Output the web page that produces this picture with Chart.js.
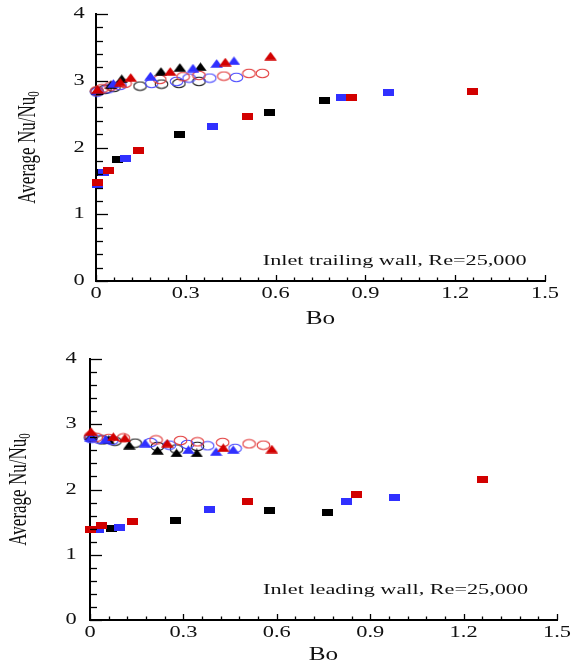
<!DOCTYPE html>
<html><head><meta charset="utf-8">
<script src="https://cdn.jsdelivr.net/npm/chart.js@4.4.1/dist/chart.umd.min.js"></script>
<style>
html,body{margin:0;padding:0;background:#fff;}
#top{position:absolute;left:0;top:0;width:575px;height:335px;}
#bot{position:absolute;left:0;top:335px;width:575px;height:334px;}
</style></head><body>
<div id="top"><canvas id="c1"></canvas></div>
<div id="bot"><canvas id="c2"></canvas></div>
<script>
// ---------- tick labels ----------
const xTickValues = [0, 0.3, 0.6, 0.9, 1.2, 1.5];
const xTickLabels = ['0', '0.3', '0.6', '0.9', '1.2', '1.5'];
const yTickValues = [0, 1, 2, 3, 4];
const yTickLabels = ['0', '1', '2', '3', '4'];

// ---------- top panel: inlet trailing wall ----------
const trSqK_Bo = [0.015, 0.072, 0.279, 0.579, 0.762];
const trSqK_Nu = [1.62, 1.82, 2.20, 2.53, 2.70];
const trSqB_Bo = [0.004, 0.024, 0.098, 0.388, 0.821, 0.976];
const trSqB_Nu = [1.45, 1.62, 1.84, 2.31, 2.75, 2.83];
const trSqR_Bo = [0.004, 0.041, 0.142, 0.507, 0.853, 1.257];
const trSqR_Nu = [1.48, 1.66, 1.95, 2.47, 2.75, 2.84];
const trTrK_Bo = [0.005, 0.05, 0.086, 0.217, 0.28, 0.349];
const trTrK_Nu = [2.86, 2.94, 3.03, 3.14, 3.20, 3.21];
const trTrB_Bo = [0.005, 0.058, 0.182, 0.324, 0.403, 0.461];
const trTrB_Nu = [2.85, 2.96, 3.07, 3.19, 3.26, 3.30];
const trTrR_Bo = [0.005, 0.081, 0.116, 0.248, 0.432, 0.583];
const trTrR_Nu = [2.87, 2.98, 3.05, 3.14, 3.28, 3.37];
const trCiK_Bo = [0.003, 0.03, 0.06, 0.147, 0.219, 0.277, 0.344];
const trCiK_Nu = [2.84, 2.87, 2.90, 2.92, 2.95, 2.96, 2.99];
const trCiB_Bo = [0.003, 0.04, 0.08, 0.186, 0.269, 0.311, 0.38, 0.469];
const trCiB_Nu = [2.83, 2.88, 2.93, 2.96, 2.99, 3.04, 3.04, 3.05];
const trCiR_Bo = [0.003, 0.02, 0.05, 0.097, 0.213, 0.291, 0.344, 0.427, 0.511, 0.556];
const trCiR_Nu = [2.85, 2.88, 2.92, 2.96, 3.02, 3.06, 3.08, 3.07, 3.11, 3.11];

// ---------- bottom panel: inlet leading wall ----------
const ldSqK_Bo = [0.068, 0.276, 0.577, 0.763];
const ldSqK_Nu = [1.40, 1.52, 1.68, 1.65];
const ldSqB_Bo = [0.027, 0.094, 0.385, 0.824, 0.978];
const ldSqB_Nu = [1.38, 1.41, 1.70, 1.81, 1.87];
const ldSqR_Bo = [0.0, 0.036, 0.137, 0.505, 0.855, 1.261];
const ldSqR_Nu = [1.38, 1.45, 1.51, 1.82, 1.92, 2.16];
const ldTrK_Bo = [0.003, 0.06, 0.126, 0.217, 0.278, 0.343];
const ldTrK_Nu = [2.82, 2.76, 2.68, 2.60, 2.56, 2.56];
const ldTrB_Bo = [0.003, 0.05, 0.177, 0.316, 0.405, 0.46];
const ldTrB_Nu = [2.80, 2.77, 2.71, 2.61, 2.58, 2.61];
const ldTrR_Bo = [0.003, 0.075, 0.112, 0.248, 0.428, 0.584];
const ldTrR_Nu = [2.89, 2.81, 2.79, 2.71, 2.64, 2.62];
const ldCiK_Bo = [0.003, 0.04, 0.08, 0.145, 0.217, 0.278, 0.345];
const ldCiK_Nu = [2.80, 2.76, 2.74, 2.71, 2.66, 2.62, 2.66];
const ldCiB_Bo = [0.003, 0.03, 0.07, 0.195, 0.255, 0.313, 0.378, 0.466];
const ldCiB_Nu = [2.78, 2.77, 2.75, 2.72, 2.68, 2.69, 2.67, 2.63];
const ldCiR_Bo = [0.003, 0.02, 0.06, 0.107, 0.212, 0.291, 0.345, 0.426, 0.511, 0.557];
const ldCiR_Nu = [2.82, 2.80, 2.78, 2.79, 2.76, 2.75, 2.73, 2.72, 2.70, 2.68];

const BLACK = '#000000', BLUE = '#3030ff', RED = '#d20000';
const BLUE_O = '#4a4aff', RED_O = '#e23a3a', BLACK_O = '#1a1a1a';

function marker(kind, color) {
  const c = document.createElement('canvas');
  let g;
  if (kind === 'rect') {
    c.width = 11; c.height = 7; g = c.getContext('2d');
    g.fillStyle = color; g.fillRect(0, 0, 11, 7);
  } else if (kind === 'tri') {
    c.width = 13; c.height = 9; g = c.getContext('2d');
    g.fillStyle = color; g.beginPath();
    g.moveTo(6.5, 0.3); g.lineTo(12.8, 8.8); g.lineTo(0.2, 8.8); g.closePath(); g.fill();
  } else {
    c.width = 15; c.height = 11; g = c.getContext('2d');
    g.strokeStyle = color; g.lineWidth = 1.1; g.beginPath();
    g.ellipse(7.5, 5.5, 6.3, 4.3, 0, 0, Math.PI * 2); g.stroke();
  }
  return c;
}

function ds(label, xs, ys, kind, color) {
  return {
    label, data: xs.map((x, i) => ({ x, y: ys[i] })),
    pointStyle: marker(kind, color), pointRadius: 5, pointHoverRadius: 5,
    showLine: false, clip: false
  };
}

function drawStretched(ctx, text, x, y, font, sx, align, baseline) {
  ctx.save();
  ctx.translate(x, y);
  ctx.scale(sx, 1);
  ctx.font = font;
  ctx.textAlign = align || 'center';
  ctx.textBaseline = baseline || 'middle';
  ctx.fillText(text, 0, 0);
  ctx.restore();
}

const decoPlugin = {
  id: 'deco',
  afterDraw(chart, args, o) {
    const ctx = chart.ctx, xs = chart.scales.x, ys = chart.scales.y, ca = chart.chartArea;
    ctx.save();
    ctx.strokeStyle = '#000'; ctx.lineWidth = 1.3; ctx.fillStyle = '#111';
    // inward minor/major ticks on y
    for (let i = 0; i <= 20; i++) {
      const v = i * 0.2, major = i % 5 === 0;
      const p = Math.round(ys.getPixelForValue(v)) + 0.5;
      ctx.beginPath(); ctx.moveTo(ca.left, p); ctx.lineTo(ca.left + (major ? o.yMajor : o.yMinor), p); ctx.stroke();
    }
    // inward minor/major ticks on x
    for (let i = 0; i <= 25; i++) {
      const v = i * 0.06, major = i % 5 === 0;
      const p = Math.round(xs.getPixelForValue(v)) + 0.5;
      ctx.beginPath(); ctx.moveTo(p, ca.bottom); ctx.lineTo(p, ca.bottom - (major ? o.xMajor : o.xMinor)); ctx.stroke();
    }
    const tickFont = '16px "Liberation Serif", "Times New Roman", serif';
    yTickValues.forEach((v, i) => drawStretched(ctx, yTickLabels[i], ca.left - o.yLabOff, ys.getPixelForValue(v), tickFont, 1.4));
    xTickValues.forEach((v, i) => drawStretched(ctx, xTickLabels[i], xs.getPixelForValue(v), ca.bottom + o.xLabOff, tickFont, 1.4));
    // x title
    drawStretched(ctx, 'Bo', (ca.left + ca.right) / 2, ca.bottom + o.xTitleOff, '18px "Liberation Serif", serif', 1.4);
    // y title (rotated, with subscript)
    ctx.save();
    ctx.translate(o.yTitleX, (ca.top + ca.bottom) / 2);
    ctx.rotate(-Math.PI / 2);
    ctx.scale(1, 1.45);
    const mainF = '17px "Liberation Serif", serif', subF = '11px "Liberation Serif", serif';
    ctx.font = mainF; const wm = ctx.measureText('Average Nu/Nu').width;
    ctx.font = subF; const ws = ctx.measureText('0').width;
    const x0 = -(wm + ws) / 2;
    ctx.textAlign = 'left'; ctx.textBaseline = 'middle';
    ctx.font = mainF; ctx.fillText('Average Nu/Nu', x0, 0);
    ctx.font = subF; ctx.fillText('0', x0 + wm, 4);
    ctx.restore();
    // annotation
    ctx.font = '15px "Liberation Serif", serif';
    const wn = ctx.measureText(o.note).width;
    drawStretched(ctx, o.note, xs.getPixelForValue(o.noteBo), ys.getPixelForValue(o.noteNu),
      '15px "Liberation Serif", serif', o.noteWidth / wn, 'left', 'alphabetic');
    ctx.restore();
  }
};

function makeChart(id, sets, pad, yW, xH, decoOpts) {
  return new Chart(document.getElementById(id), {
    type: 'scatter',
    data: { datasets: sets },
    options: {
      responsive: true, maintainAspectRatio: false, animation: false,
      layout: { padding: pad },
      plugins: { legend: { display: false }, tooltip: { enabled: false }, deco: decoOpts },
      scales: {
        x: { type: 'linear', min: 0, max: 1.5, grid: { display: false },
             border: { display: true, color: '#000', width: 2 }, ticks: { display: false },
             afterFit(s) { s.height = xH; } },
        y: { type: 'linear', min: 0, max: 4, grid: { display: false },
             border: { display: true, color: '#000', width: 2 }, ticks: { display: false },
             afterFit(s) { s.width = yW; } }
      }
    },
    plugins: [decoPlugin]
  });
}

makeChart('c1', [
  ds('Red square', trSqR_Bo, trSqR_Nu, 'rect', RED),
  ds('Blue square', trSqB_Bo, trSqB_Nu, 'rect', BLUE),
  ds('Black square', trSqK_Bo, trSqK_Nu, 'rect', BLACK),
  ds('Red triangle', trTrR_Bo, trTrR_Nu, 'tri', RED),
  ds('Blue triangle', trTrB_Bo, trTrB_Nu, 'tri', BLUE),
  ds('Black triangle', trTrK_Bo, trTrK_Nu, 'tri', BLACK),
  ds('Red circle', trCiR_Bo, trCiR_Nu, 'circ', RED_O),
  ds('Blue circle', trCiB_Bo, trCiB_Nu, 'circ', BLUE_O),
  ds('Black circle', trCiK_Bo, trCiK_Nu, 'circ', BLACK_O)
], { top: 14, right: 30, left: 0, bottom: 0 }, 96, 54,
{ yMajor: 12, yMinor: 7, xMajor: 6, xMinor: 3.5, yLabOff: 17, xLabOff: 13, xTitleOff: 38, yTitleX: 29,
  note: 'Inlet trailing wall, Re=25,000', noteBo: 0.557, noteNu: 0.24, noteWidth: 264 });

makeChart('c2', [
  ds('Red square', ldSqR_Bo, ldSqR_Nu, 'rect', RED),
  ds('Blue square', ldSqB_Bo, ldSqB_Nu, 'rect', BLUE),
  ds('Black square', ldSqK_Bo, ldSqK_Nu, 'rect', BLACK),
  ds('Red triangle', ldTrR_Bo, ldTrR_Nu, 'tri', RED),
  ds('Blue triangle', ldTrB_Bo, ldTrB_Nu, 'tri', BLUE),
  ds('Black triangle', ldTrK_Bo, ldTrK_Nu, 'tri', BLACK),
  ds('Red circle', ldCiR_Bo, ldCiR_Nu, 'circ', RED_O),
  ds('Blue circle', ldCiB_Bo, ldCiB_Nu, 'circ', BLUE_O),
  ds('Black circle', ldCiK_Bo, ldCiK_Nu, 'circ', BLACK_O)
], { top: 24, right: 18, left: 0, bottom: 0 }, 90, 49,
{ yMajor: 12, yMinor: 7, xMajor: 6, xMinor: 3.5, yLabOff: 19, xLabOff: 13, xTitleOff: 35, yTitleX: 20,
  note: 'Inlet leading wall, Re=25,000', noteBo: 0.556, noteNu: 0.40, noteWidth: 265 });
</script>
</body></html>
